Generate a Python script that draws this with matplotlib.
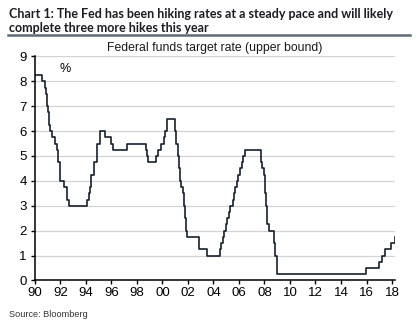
import numpy as np
import pandas as pd
import matplotlib
matplotlib.use("Agg")
import matplotlib.pyplot as plt
from matplotlib.lines import Line2D

# Fed funds target rate (upper bound): date of change and new level
change_dates = [
    "1990-01-01", "1990-07-13", "1990-10-29", "1990-11-13", "1990-12-07", "1990-12-19",
    "1991-01-09", "1991-02-01", "1991-03-08", "1991-04-30", "1991-08-06", "1991-09-13",
    "1991-10-31", "1991-11-06", "1991-12-06", "1991-12-20", "1992-04-09", "1992-07-02",
    "1992-09-04", "1994-02-04", "1994-03-22", "1994-04-18", "1994-05-17", "1994-08-16",
    "1994-11-15", "1995-02-01", "1995-07-06", "1995-12-19", "1996-01-31", "1997-03-25",
    "1998-09-29", "1998-10-15", "1998-11-17", "1999-06-30", "1999-08-24", "1999-11-16",
    "2000-02-02", "2000-03-21", "2000-05-16", "2001-01-03", "2001-01-31", "2001-03-20",
    "2001-04-18", "2001-05-15", "2001-06-27", "2001-08-21", "2001-09-17", "2001-10-02",
    "2001-11-06", "2001-12-11", "2002-11-06", "2003-06-25", "2004-06-30", "2004-08-10",
    "2004-09-21", "2004-11-10", "2004-12-14", "2005-02-02", "2005-03-22", "2005-05-03",
    "2005-06-30", "2005-08-09", "2005-09-20", "2005-11-01", "2005-12-13", "2006-01-31",
    "2006-03-28", "2006-05-10", "2006-06-29", "2007-09-18", "2007-10-31", "2007-12-11",
    "2008-01-22", "2008-01-30", "2008-03-18", "2008-04-30", "2008-10-08", "2008-10-29",
    "2008-12-16", "2015-12-16", "2016-12-14", "2017-03-15", "2017-06-14", "2017-12-13",
    "2018-03-21",
]
rates = [
    8.25, 8.00, 7.75, 7.50, 7.25, 7.00,
    6.75, 6.25, 6.00, 5.75, 5.50, 5.25,
    5.00, 4.75, 4.50, 4.00, 3.75, 3.25,
    3.00, 3.25, 3.50, 3.75, 4.25, 4.75,
    5.50, 6.00, 5.75, 5.50, 5.25, 5.50,
    5.25, 5.00, 4.75, 5.00, 5.25, 5.50,
    5.75, 6.00, 6.50, 6.00, 5.50, 5.00,
    4.50, 4.00, 3.75, 3.50, 3.00, 2.50,
    2.00, 1.75, 1.25, 1.00, 1.25, 1.50,
    1.75, 2.00, 2.25, 2.50, 2.75, 3.00,
    3.25, 3.50, 3.75, 4.00, 4.25, 4.50,
    4.75, 5.00, 5.25, 4.75, 4.50, 4.25,
    3.50, 3.00, 2.25, 2.00, 1.50, 1.00,
    0.25, 0.50, 0.75, 1.00, 1.25, 1.50,
    1.75,
]
end_year = 2018.25

tick_years = list(range(1990, 2019, 2))
tick_labels = [f"{y % 100:02d}" for y in tick_years]

dates = pd.to_datetime(change_dates)
years = (dates.year + (dates.dayofyear - 1) / 365.25).to_numpy()
x = np.append(years, end_year)
y = np.append(rates, rates[-1])

plt.rcParams["font.family"] = ["Liberation Sans", "DejaVu Sans"]

fig = plt.figure(figsize=(4.16, 3.27), dpi=100)
ax = fig.add_axes([0.084, 0.1425, 0.866, 0.685])

ax.step(x, y, where="post", color="#17202c", lw=1.2)

ax.set_xlim(1990, end_year)
ax.set_ylim(0, 9)
ax.set_yticks(range(0, 10))
ax.set_xticks(tick_years)
ax.set_xticklabels(tick_labels)
ax.tick_params(labelsize=9.5, length=3, width=1, color="black")
ax.tick_params(axis="x", pad=1.5)
ax.tick_params(axis="y", pad=3)
ax.grid(axis="y", color="#d3d3d3", lw=0.9)
ax.set_axisbelow(True)
for side in ("top", "right"):
    ax.spines[side].set_visible(False)
for side in ("left", "bottom"):
    ax.spines[side].set_color("black")
    ax.spines[side].set_linewidth(1.1)

ax.text(0.083, 0.97, "%", transform=ax.transAxes, fontsize=9, va="top", ha="center")

fig.text(0.022, 0.936, "Chart 1: The Fed has been hiking rates at a steady pace and will likely\ncomplete three more hikes this year",
         fontsize=9, fontweight="bold", family=["Lato", "DejaVu Sans"], color="#1c1c24",
         va="center", ha="left", linespacing=1.2)
fig.add_artist(Line2D([0.02, 0.985], [0.893, 0.893], transform=fig.transFigure,
                      color="#5f6b78", lw=1.8))
fig.text(0.515, 0.853, "Federal funds target rate (upper bound)", fontsize=8.8,
         ha="center", va="center", color="#1a1a1a")
fig.text(0.022, 0.037, "Source: Bloomberg", fontsize=6.6, ha="left", va="center", color="#333333")

fig.savefig("out.png", dpi=100)
